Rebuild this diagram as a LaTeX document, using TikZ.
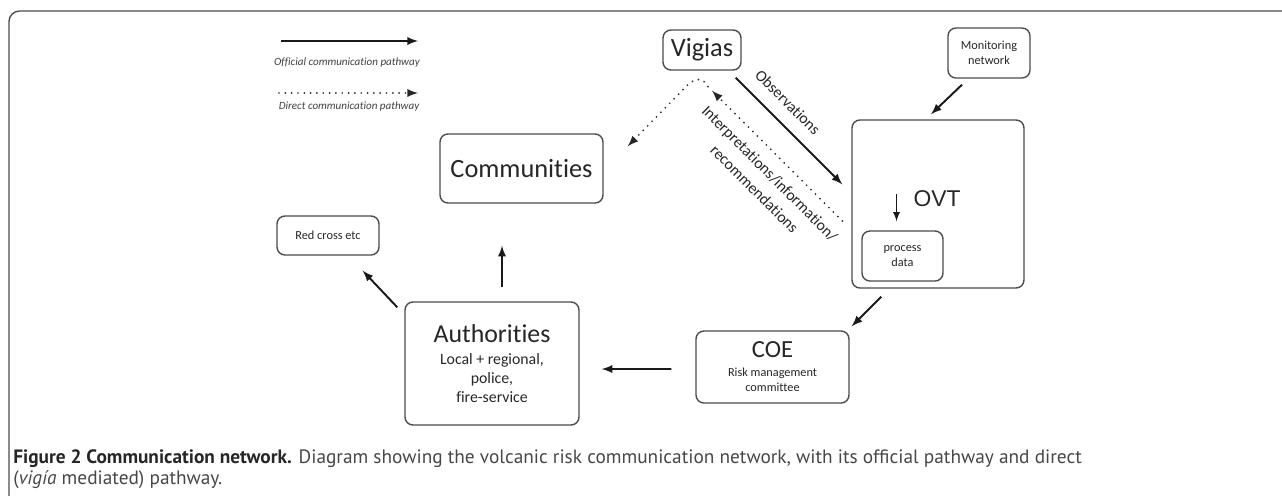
\documentclass[tikz,border=0pt]{standalone}
\usepackage{fontspec}
\setmainfont[Ligatures={NoCommon,NoRare,NoContextual}]{Carlito}
\newfontfamily\capfont{PT Sans}
\newfontfamily\ovtfont{Liberation Sans}
\usetikzlibrary{arrows,calc,positioning}
\newcommand{\pxunit}{0.02cm}
\colorlet{boxgray}{black!70}
\colorlet{capgray}{black!72}
\tikzset{
    boxsty/.style={draw=boxgray,line width=0.8pt,rounded corners=4.5pt,rectangle,inner sep=0pt,align=center,text=black!85},
    smlsty/.style={font=\fontsize{7}{8.5}\selectfont},
    bigsty/.style={font=\fontsize{15}{17}\selectfont},
    offsty/.style={->,line width=1.1pt,black!90},
    dirsty/.style={->,line width=1.1pt,line cap=round,dash pattern=on 0pt off 3.6pt,black!85},
    lgdsty/.style={font=\fontsize{6.3}{7}\selectfont\itshape,text=black!75},
    rotsty/.style={font=\fontsize{9}{12.5}\selectfont,align=center,sloped,inner sep=0pt,text=black!85},
    capsty/.style={font=\capfont\fontsize{11}{12}\selectfont,text=capgray,inner sep=0pt,anchor=base west},
}

\begin{document}
\begin{tikzpicture}[>=latex,x=\pxunit,y=-\pxunit]
\useasboundingbox (0,0) rectangle (1282,495);
\clip (0,0) rectangle (1282,495);
% frame
\draw[boxgray,line width=0.8pt,rounded corners=6pt] (9,520) -- (9,11) -- (1300,11);

% legend
\node[lgdsty] (offl) at (347,63) {Official communication pathway};
\node[lgdsty] (dirl) at (349,107) {Direct communication pathway};
\coordinate (offa) at (281,41);
\coordinate (offb) at (418,41);
\coordinate (dira) at (279,93);
\coordinate (dirb) at (418,93);
\draw[offsty] (offa) -- (offb);
\draw[dirsty] (dira) -- (dirb);

% boxes
\node[boxsty,bigsty,minimum width=1.56cm,minimum height=0.8cm] (vig) at (702,50) {Vigias};
\node[boxsty,smlsty,minimum width=1.64cm,minimum height=1.0cm] (mon) at (989,53) {Monitoring\\network};
\node[boxsty,minimum width=3.44cm,minimum height=3.36cm] (ovt) at (938,204) {};
\node[font=\ovtfont\fontsize{13}{15}\selectfont,text=black!85] (ovtl) at (937,199) {OVT};
\node[boxsty,smlsty,minimum width=1.62cm,minimum height=1.0cm] (proc) at (902.5,256) {process\\data};
\node[boxsty,smlsty,minimum width=3.06cm,minimum height=1.44cm] (coe) at (772.5,367)
  {{\fontsize{14}{16}\selectfont COE}\\[2.3pt]Risk management\\committee};
\node[boxsty,font=\fontsize{9}{10.8}\selectfont,minimum width=3.48cm,minimum height=2.46cm] (auth) at (492,363.5)
  {{\fontsize{14.7}{16}\selectfont Authorities}\\[2pt]Local + regional,\\police,\\fire-service};
\node[boxsty,bigsty,minimum width=3.26cm,minimum height=1.38cm] (comm) at (521.5,168.5) {Communities};
\node[boxsty,smlsty,minimum width=2.04cm,minimum height=0.78cm] (red) at (328,235.5) {Red cross etc};

% official pathway
\draw[offsty] ([shift={(-27,6)}]mon.south) -- ([shift={(-7,-5)}]ovt.north);
\draw[offsty,line width=0.8pt] ([shift={(-6,-36)}]proc.north) -- ([shift={(-6,-9)}]proc.north);
\draw[offsty] ([shift={(30,8)}]ovt.south west) -- ([shift={(2,-4)}]coe.north east);
\draw[offsty] ([shift={(-24,2)}]coe.west) -- ([shift={(22,5.5)}]auth.east);
\draw[offsty] ([shift={(10,-14)}]auth.north) -- ([shift={(-19.5,42)}]comm.south);
\draw[offsty] ([shift={(-7,6)}]auth.north west) -- ([shift={(-17,15)}]red.south east);
\draw[offsty] ([shift={(-6,7)}]vig.south east) --
  node[rotsty,pos=0.36,above=0.26cm] {Observations} ([shift={(-9,65)}]ovt.north west);

% direct pathway
\draw[dirsty] ([shift={(-9,17)}]ovt.west) --
  node[rotsty,pos=0.46,below=0.22cm] {Interpretations/information/\\recommendations} ([shift={(10,20)}]vig.south);
\draw[dirsty] ([shift={(6,16)}]vig.south) .. controls ([shift={(0,4)}]vig.south) and ([shift={(-10,8)}]vig.south) ..
  ([shift={(-20,20)}]vig.south) -- ([shift={(24,13)}]comm.north east);

% caption
\node[capsty] (cap1) at (13,463) {{\bfseries\color{black!85}Figure 2 Communication network.} Diagram showing the volcanic risk communication network, with its official pathway and direct};
\node[capsty] (cap2) at (13,484) {(\textit{vigía} mediated) pathway.};
\end{tikzpicture}
\end{document}
